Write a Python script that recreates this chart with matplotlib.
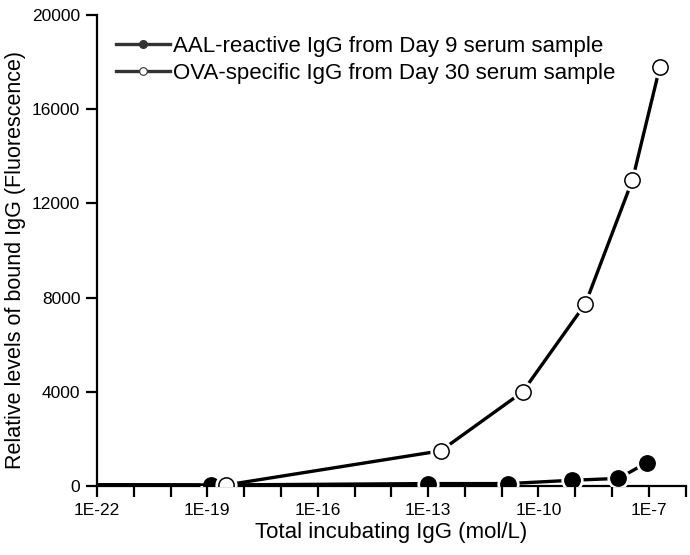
import numpy as np
import matplotlib.pyplot as plt
from matplotlib.ticker import FixedLocator, FixedFormatter, NullFormatter

plt.rcParams['font.family'] = ['Liberation Sans', 'DejaVu Sans']

# AAL-reactive IgG, Day 9 (first point lies at the left axis edge, no marker)
aal_x = [1e-22, 1.25e-19, 1e-13, 1.5e-11, 8e-10, 1.5e-8, 9e-8]
aal_y = [60, 50, 110, 110, 250, 330, 1000]

# OVA-specific IgG, Day 30
ova_x = [1e-22, 3.2e-19, 2.2e-13, 3.7e-11, 1.9e-9, 3.6e-8, 2e-7]
ova_y = [60, 50, 1500, 4000, 7750, 13000, 17800]

xticks = [1e-22, 1e-19, 1e-16, 1e-13, 1e-10, 1e-7]
xticklabels = ['1E-22', '1E-19', '1E-16', '1E-13', '1E-10', '1E-7']
yticks = [0, 4000, 8000, 12000, 16000, 20000]

fig = plt.figure(figsize=(6.9, 5.55), dpi=100)
ax = fig.add_axes([0.1406, 0.124, 0.853, 0.849])

lw = 2.4
ms = 11
for xs, ys, fc, z in [(aal_x, aal_y, 'black', 3), (ova_x, ova_y, 'white', 4)]:
    mk = list(range(1, len(xs)))
    ax.plot(xs, ys, color='black', lw=lw, zorder=z, solid_capstyle='butt')
    # white halo leaves a small gap between line and marker
    ax.plot(xs, ys, ls='none', marker='o', ms=ms + 5, mfc='white', mec='none',
            markevery=mk, zorder=z + 0.1)
    ax.plot(xs, ys, ls='none', marker='o', ms=ms, mfc=fc, mec='black', mew=1.1,
            markevery=mk, zorder=z + 0.2)

# legend proxies
h1, = ax.plot([], [], color='#333333', lw=lw, marker='o', ms=5.5, mfc='#333333', mec='#333333')
h2, = ax.plot([], [], color='#333333', lw=lw, marker='o', ms=5.5, mfc='white', mec='#333333', mew=0.8)
ax.legend([h1, h2], ['AAL-reactive IgG from Day 9 serum sample',
                     'OVA-specific IgG from Day 30 serum sample'],
          loc='upper left', bbox_to_anchor=(0.018, 0.975), frameon=False,
          fontsize=16, handlelength=2.4, handletextpad=0.15, labelspacing=0.28,
          borderaxespad=0)

ax.set_xscale('log')
ax.set_xlim(1e-22, 1e-6)
ax.set_ylim(0, 20000)
ax.xaxis.set_major_locator(FixedLocator(xticks))
ax.xaxis.set_major_formatter(FixedFormatter(xticklabels))
ax.xaxis.set_minor_locator(FixedLocator([10.0 ** e for e in range(-22, -5)]))
ax.xaxis.set_minor_formatter(NullFormatter())
ax.set_yticks(yticks)
ax.set_yticklabels([str(v) for v in yticks])

for s in ['top', 'right']:
    ax.spines[s].set_visible(False)
for s in ['left', 'bottom']:
    ax.spines[s].set_linewidth(1.6)
ax.tick_params(which='both', direction='out', length=8, width=1.6, labelsize=12.5, pad=4)

ax.set_xlabel('Total incubating IgG (mol/L)', fontsize=16, labelpad=3)
ax.set_ylabel('Relative levels of bound IgG (Fluorescence)', fontsize=15.5, labelpad=3)
ax.yaxis.set_label_coords(-0.12, 0.48)

fig.savefig('out.png', dpi=100)
